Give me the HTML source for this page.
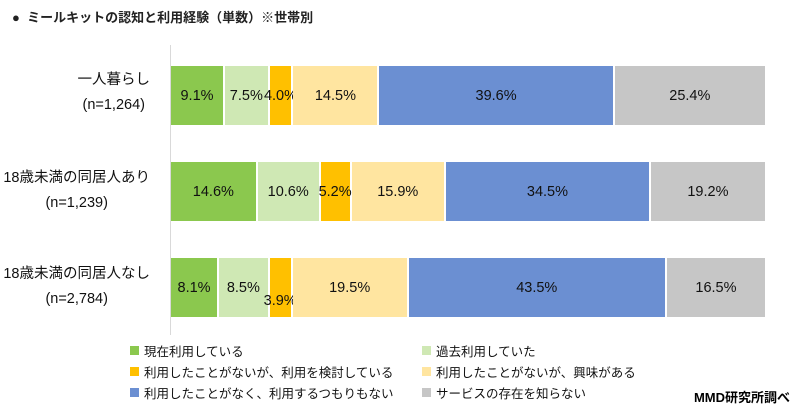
<!DOCTYPE html><html><head><meta charset="utf-8"><style>
body{margin:0;width:800px;height:414px;background:#fff;font-family:"Liberation Sans","Noto Sans CJK JP",sans-serif;position:relative;overflow:hidden}
.t{position:absolute;left:12px;top:7px;font-size:13px;font-weight:bold;color:#222}
.ax{position:absolute;left:170px;top:45px;width:1px;height:290px;background:#d9d9d9}
.bar{position:absolute;left:171px;width:594px;height:59px;display:flex}
.bar div{height:100%;box-sizing:border-box;border-right:2px solid #fff;display:flex;align-items:center;justify-content:center;font-size:14.5px;color:#111;white-space:nowrap;overflow:visible}
.bar div:last-child{border-right:none}
.g{background:#8bc84e}.lg{background:#cfe8b4}.o{background:#ffc000}.y{background:#ffe5a0}.b{background:#6b8fd2}.gr{background:#c6c6c6}
.lab{position:absolute;right:650px;text-align:center;font-size:14.5px;color:#111;line-height:25px;white-space:nowrap}
.leg{position:absolute;font-size:12.5px;color:#111;display:flex;align-items:center;white-space:nowrap}
.leg i{display:inline-block;width:9px;height:9px;margin-right:5px}
.src{position:absolute;right:10px;top:387px;font-size:13px;font-weight:bold}
</style></head><body>
<div class="t">●&nbsp; ミールキットの認知と利用経験（単数）※世帯別</div>
<div class="ax"></div>
<div class="lab" style="top:68px">一人暮らし<br>(n=1,264)</div>
<div class="lab" style="top:166px">18歳未満の同居人あり<br>(n=1,239)</div>
<div class="lab" style="top:262px">18歳未満の同居人なし<br>(n=2,784)</div>
<div class="bar" style="top:66px"><div class="g" style="width:9.1%">9.1%</div><div class="lg" style="width:7.5%">7.5%</div><div class="o" style="width:4.0%">4.0%</div><div class="y" style="width:14.5%">14.5%</div><div class="b" style="width:39.6%">39.6%</div><div class="gr" style="width:25.3%">25.4%</div></div>
<div class="bar" style="top:162px"><div class="g" style="width:14.6%">14.6%</div><div class="lg" style="width:10.6%">10.6%</div><div class="o" style="width:5.2%">5.2%</div><div class="y" style="width:15.9%">15.9%</div><div class="b" style="width:34.5%">34.5%</div><div class="gr" style="width:19.2%">19.2%</div></div>
<div class="bar" style="top:258px"><div class="g" style="width:8.1%">8.1%</div><div class="lg" style="width:8.5%">8.5%</div><div class="o" style="width:3.9%;align-items:flex-end;padding-bottom:8px">3.9%</div><div class="y" style="width:19.5%">19.5%</div><div class="b" style="width:43.5%">43.5%</div><div class="gr" style="width:16.5%">16.5%</div></div>
<div class="leg" style="left:130px;top:341px"><i class="g"></i>現在利用している</div>
<div class="leg" style="left:422px;top:341px"><i class="lg"></i>過去利用していた</div>
<div class="leg" style="left:130px;top:362px"><i class="o"></i>利用したことがないが、利用を検討している</div>
<div class="leg" style="left:422px;top:362px"><i class="y"></i>利用したことがないが、興味がある</div>
<div class="leg" style="left:130px;top:383px"><i class="b"></i>利用したことがなく、利用するつもりもない</div>
<div class="leg" style="left:422px;top:383px"><i class="gr"></i>サービスの存在を知らない</div>
<div class="src">MMD研究所調べ</div>
</body></html>
